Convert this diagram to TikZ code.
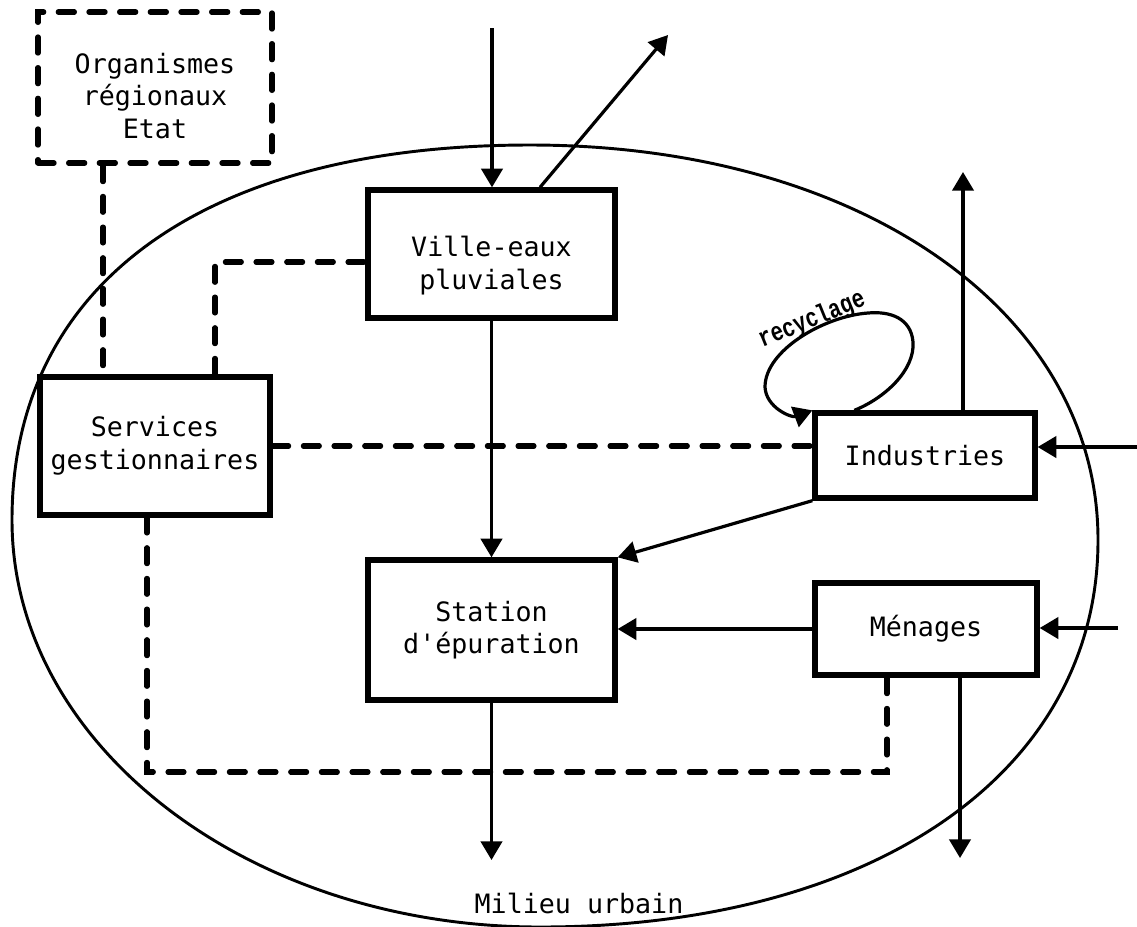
\documentclass[tikz,border=0pt]{standalone}
\usepackage{fontspec}
\setmonofont{DejaVu Sans Mono}
\newfontfamily\rmono{Liberation Mono}
\usetikzlibrary{arrows.meta,calc}
\begin{document}
\begin{tikzpicture}[x=0.75pt,y=-0.75pt,
  box/.style={draw,line width=4pt,align=center,inner sep=0pt,
    font=\ttfamily\fontsize{20}{24.5}\selectfont},
  dbox/.style={box,dash pattern=on 12pt off 11pt,line cap=round},
  dsh/.style={line width=3.8pt,dash pattern=on 12pt off 11pt,line cap=round},
  flow/.style={line width=2.4pt,-{Triangle[length=14pt,width=16pt]}},
  outline/.style={line width=2.2pt},
  lbl/.style={font=\ttfamily\fontsize{20}{24.5}\selectfont}
]
\path[use as bounding box] (0,0) rectangle (1137,926);

% urban environment outline
\draw[outline] (530,145) .. controls (859,145) and (1098,311) .. (1098,540)
  .. controls (1098,772) and (875,927) .. (540,927)
  .. controls (248,927) and (12,745) .. (12,520)
  .. controls (12,284) and (204,145) .. (530,145) -- cycle;

% boxes
\node[dbox,minimum width=175.5pt,minimum height=113.25pt] (org) at (155,87.5)
  {\rule{0pt}{28pt}Organismes\\régionaux\\Etat};
\node[box,minimum width=185.25pt,minimum height=96pt] (ville) at (491.5,254)
  {\rule{0pt}{33pt}Ville-eaux\\pluviales};
\node[box,minimum width=172.5pt,minimum height=103.5pt] (serv) at (155,446)
  {Services\\gestionnaires};
\node[box,minimum width=185.25pt,minimum height=105pt] (stat) at (491.5,630)
  {Station\\d'épuration};
\node[box,minimum width=165pt,minimum height=63.75pt] (ind) at (925,455.5)
  {Industries};
\node[box,minimum width=166.5pt,minimum height=69pt] (men) at (926,629)
  {Ménages};

\node[lbl] (milieu) at (579,903) {Milieu urbain};
\node[rotate=22,inner sep=0pt] (rec) at (812,320)
  {\rmono\bfseries\fontsize{20}{20}\selectfont\scalebox{0.78}[1]{recyclage}};

% free ends
\coordinate (topin) at (492,28);
\coordinate (topout) at (668,35);
\coordinate (indout) at (963,172);
\coordinate (indin) at (1137,447);
\coordinate (menin) at (1118,628);
\coordinate (menout) at (960,858);
\coordinate (statout) at (491,860);
\coordinate (dcorner) at (147,772);

% flows
\draw[flow] (topin) -- (topin |- ville.north);
\draw[flow] (ville.north -| 540,0) -- (topout);
\draw[flow] (ville.south) -- (stat.north);
\draw[flow] (stat.south) -- (stat.south |- statout);
\draw[flow] (ind.north -| indout) -- (indout);
\draw[flow] (indin) -- (indin -| ind.east);
\draw[flow] (ind.south west) -- (stat.north east);
\draw[flow] (men.west) -- (men.west -| stat.east);
\draw[flow] (menin) -- (menin -| men.east);
\draw[flow] (men.south -| menout) -- (menout);

% recycling loop
\draw[flow] ([xshift=31.5pt]ind.north west) .. controls (885,398) and (915,370) .. (913,342)
  .. controls (911,318) and (890,311) .. (868,313)
  .. controls (825,316) and (765,350) .. (765,387)
  .. controls (766,408) and (792,418) .. (ind.north west);

% management links
\draw[dsh] (org.south -| 103,0) -- (serv.north -| 103,0);
\draw[dsh] (serv.north -| 215,0) |- (ville.west |- 0,262);
\draw[dsh] (serv.east) -- (serv.east -| ind.west);
\draw[dsh] (men.south -| 887,0) |- (dcorner) -- (dcorner |- serv.south);
\end{tikzpicture}
\end{document}
